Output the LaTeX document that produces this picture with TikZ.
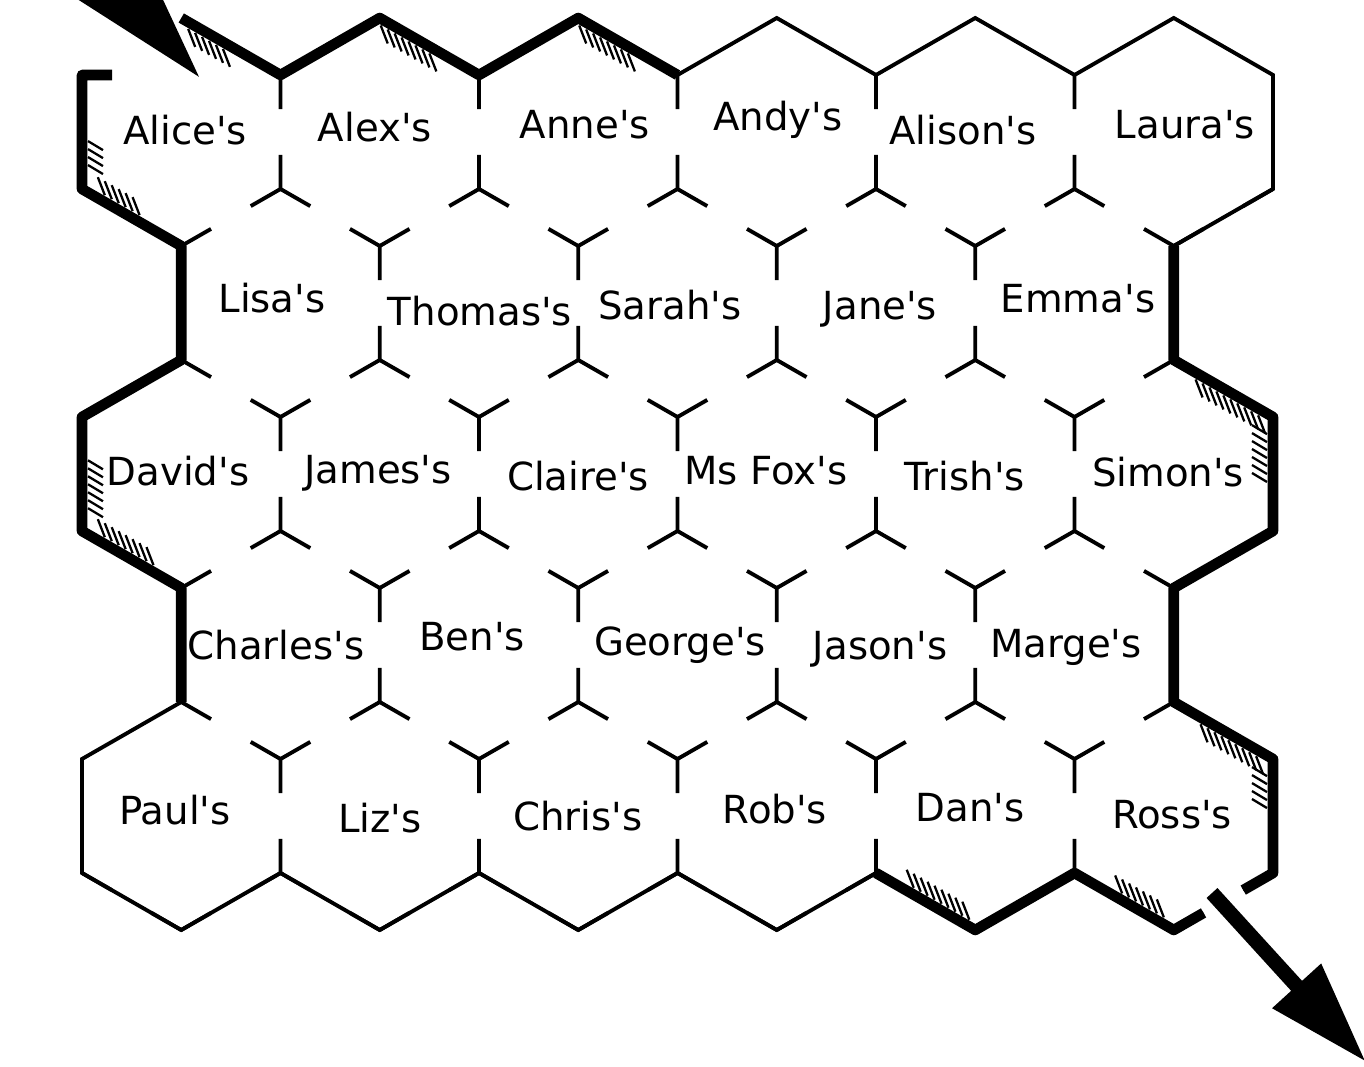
\documentclass[tikz,border=0pt]{standalone}
\usepackage{fontspec}
\newfontfamily\housefont{DejaVu Sans}
\usetikzlibrary{calc,arrows.meta}
\newcommand{\apos}{\textquotesingle}
% short shading strokes on the inner side of a wall
\newcommand{\hatch}[5]{%
  \foreach \pos in {#3}
    \draw[hatchline] ($(#1)!\pos!(#2)!0.06cm!#4:(#2)$) -- ++(#5);}

\begin{document}
\begin{tikzpicture}[x=0.01cm,y=-0.01cm,
  wall/.style={line width=1.1pt},
  thickwall/.style={line width=3pt,line join=round},
  hatchline/.style={line width=0.65pt},
  house/.style={font=\housefont\fontsize{11}{13}\selectfont,inner sep=1pt}]
\useasboundingbox (0,0) rectangle (1364,1067);
\clip (0,0) rectangle (1364,1067);

% doors: every inner wall only near its corners
\foreach \rr in {0,...,4}{
  \pgfmathtruncatemacro{\lastcol}{isodd(\rr) ? 4 : 5}
  \foreach \cc in {0,...,\lastcol}{
    \pgfmathsetmacro{\cx}{181.25+198.5*\cc+99.25*isodd(\rr)}
    \pgfmathsetmacro{\cy}{132+171*\rr}
    \coordinate (ur) at (\cx+99.25,\cy-57);
    \coordinate (lr) at (\cx+99.25,\cy+57);
    \coordinate (bt) at (\cx,\cy+114);
    \coordinate (ll) at (\cx-99.25,\cy+57);
    \draw[wall] (ur) -- ($(ur)!0.3!(lr)$) (lr) -- ($(lr)!0.3!(ur)$)
      (lr) -- ($(lr)!0.3!(bt)$) (bt) -- ($(bt)!0.3!(lr)$)
      (bt) -- ($(bt)!0.3!(ll)$) (ll) -- ($(ll)!0.3!(bt)$);
  }
}

% outer wall
\draw[thickwall] (181.25,18) -- (280.5,75) -- (379.75,18) -- (479,75) -- (578.25,18) -- (677.5,75);
\draw[wall] (677.5,75) -- (776.75,18) -- (876,75) -- (975.25,18) -- (1074.5,75) -- (1173.75,18)
  -- (1273,75) -- (1273,189) -- (1173.75,246);
\draw[thickwall] (1173.75,246) -- (1173.75,360) -- (1273,417) -- (1273,531) -- (1173.75,588)
  -- (1173.75,702) -- (1273,759) -- (1273,873) -- ($(1273,873)!0.3!(1173.75,930)$);
\draw[thickwall] ($(1173.75,930)!0.3!(1273,873)$) -- (1173.75,930) -- (1074.5,873) -- (975.25,930) -- (876,873);
\draw[wall] (876,873) -- (776.75,930) -- (677.5,873) -- (578.25,930) -- (479,873) -- (379.75,930)
  -- (280.5,873) -- (181.25,930) -- (82,873) -- (82,759) -- (181.25,702);
\draw[thickwall] (181.25,702) -- (181.25,588) -- (82,531) -- (82,417) -- (181.25,360)
  -- (181.25,246) -- (82,189) -- (82,75) -- (112,75);

% shading
\hatch{181.25,18}{280.5,75}{0.1,0.17,...,0.5}{-90}{7,18}
\hatch{379.75,18}{479,75}{0.04,0.11,...,0.55}{-90}{7,18}
\hatch{578.25,18}{677.5,75}{0.04,0.11,...,0.6}{-90}{7,18}
\hatch{82,75}{82,189}{0.58,0.65,...,0.85}{90}{15,9}
\hatch{82,189}{181.25,246}{0.2,0.27,...,0.6}{90}{-7,-18}
\hatch{82,417}{82,531}{0.38,0.45,...,0.85}{90}{15,9}
\hatch{82,531}{181.25,588}{0.2,0.27,...,0.75}{90}{-7,-18}
\hatch{1173.75,360}{1273,417}{0.25,0.32,...,0.9}{-90}{7,18}
\hatch{1273,417}{1273,531}{0.15,0.22,...,0.6}{-90}{-15,-9}
\hatch{1173.75,702}{1273,759}{0.3,0.37,...,0.9}{-90}{7,18}
\hatch{1273,759}{1273,873}{0.15,0.22,...,0.5}{-90}{-15,-9}
\hatch{876,873}{975.25,930}{0.35,0.42,...,0.92}{90}{-7,-18}
\hatch{1074.5,873}{1173.75,930}{0.45,0.52,...,0.93}{90}{-7,-18}

% way in and way out
\coordinate (entrytail) at (2,-148);
\coordinate (entry) at (200,78);
\coordinate (exitstart) at (1212,893);
\coordinate (exittip) at (1366,1062);
\draw[line width=4.2pt,-{Triangle[length=1.5cm,width=0.82cm]}] (entrytail) -- (entry);
\draw[line width=4.2pt,-{Triangle[length=1.03cm,width=0.62cm]}] (exitstart) -- (exittip);

% houses
\node[house] (alice) at (185,130) {Alice\apos s};
\node[house] (alex) at (375,127) {Alex\apos s};
\node[house] (anne) at (585,125) {Anne\apos s};
\node[house] (andy) at (778,120) {Andy\apos s};
\node[house] (alison) at (963,130) {Alison\apos s};
\node[house] (laura) at (1185,125) {Laura\apos s};
\node[house] (lisa) at (272,298) {Lisa\apos s};
\node[house] (thomas) at (480,311) {Thomas\apos s};
\node[house] (sarah) at (670,305) {Sarah\apos s};
\node[house] (jane) at (880,309) {Jane\apos s};
\node[house] (emma) at (1078,299) {Emma\apos s};
\node[house] (david) at (178,471) {David\apos s};
\node[house] (james) at (378,473) {James\apos s};
\node[house] (claire) at (578,476) {Claire\apos s};
\node[house] (msfox) at (766,471) {Ms Fox\apos s};
\node[house] (trish) at (965,476) {Trish\apos s};
\node[house] (simon) at (1168,472) {Simon\apos s};
\node[house] (charles) at (276,645) {Charles\apos s};
\node[house] (ben) at (472,637) {Ben\apos s};
\node[house] (george) at (680,645) {George\apos s};
\node[house] (jason) at (880,649) {Jason\apos s};
\node[house] (marge) at (1066,647) {Marge\apos s};
\node[house] (paul) at (175,810) {Paul\apos s};
\node[house] (liz) at (380,818) {Liz\apos s};
\node[house] (chris) at (578,816) {Chris\apos s};
\node[house] (rob) at (775,809) {Rob\apos s};
\node[house] (dan) at (970,808) {Dan\apos s};
\node[house] (ross) at (1172,815) {Ross\apos s};
\end{tikzpicture}
\end{document}
